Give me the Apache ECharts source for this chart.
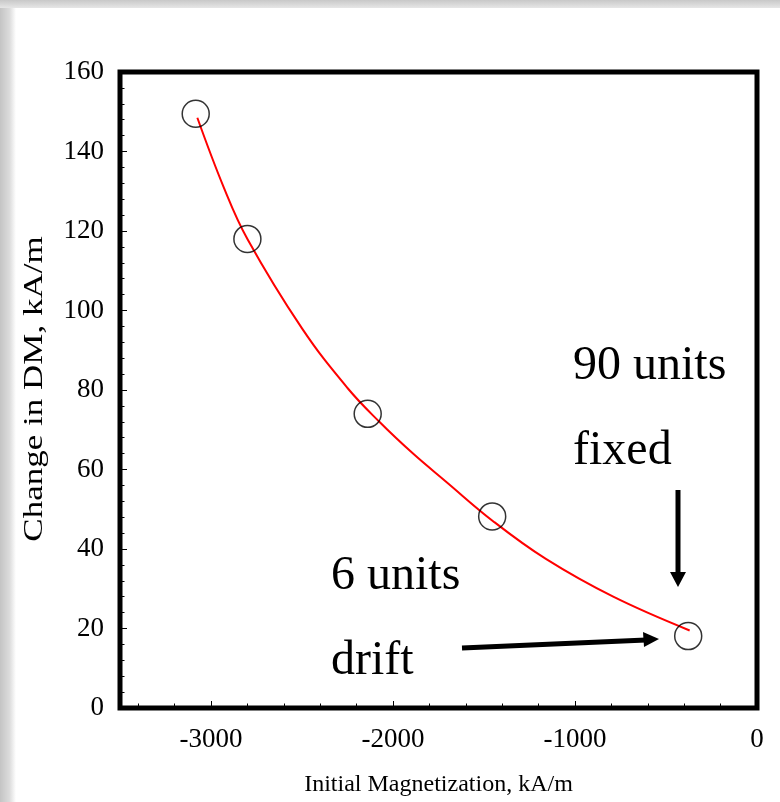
<!DOCTYPE html>
<html>
<head>
<meta charset="utf-8">
<script src="https://cdn.jsdelivr.net/npm/echarts@6/dist/echarts.min.js"></script>
<style>
  html, body { margin: 0; padding: 0; background: #fff; }
  #div_chart { width: 780px; height: 802px; }
</style>
</head>
<body>
<div id="div_chart"></div>
<script>
// measured points (circles)
var pointX = [-3084, -2800, -2139, -1455, -378];
var pointY = [149.5, 118, 74, 48.2, 18.1];

// fitted curve
var curveX = [-3075, -2930, -2800, -2500, -2250, -2075, -1890, -1710, -1450, -1160, -790, -370];
var curveY = [148.5, 131, 118, 95.5, 80.5, 72, 64, 57, 47, 37.5, 28, 19.5];

// axis ticks
var xLabelTicks = [-3000, -2000, -1000, 0];
var xMinorTicks = [-3400, -3200, -2800, -2600, -2400, -2200, -1800, -1600, -1400, -1200, -800, -600, -400, -200];

var serif = "'Liberation Serif', 'Times New Roman', serif";

var zip = function (xs, ys) {
    return xs.map(function (x, i) { return [x, ys[i]]; });
};

var initChart = function () {
    var myChart = echarts.init(document.getElementById("div_chart"));
    var option = {
        backgroundColor: '#fff',
        animation: false,
        grid: {
            left: 120, right: 23, top: 72, bottom: 93,
            show: true, borderWidth: 5, borderColor: '#000',
            backgroundColor: '#fff'
        },
        xAxis: [
            {
                type: 'value', min: -3500, max: 0, position: 'bottom',
                name: 'Initial Magnetization, kA/m',
                nameLocation: 'middle', nameGap: 65,
                nameTextStyle: { fontFamily: serif, fontSize: 24, color: '#000' },
                axisLine: { show: false, onZero: false },
                splitLine: { show: false },
                axisTick: { inside: true, length: 7, customValues: xLabelTicks, lineStyle: { color: '#000', width: 1 } },
                axisLabel: {
                    customValues: xLabelTicks, fontFamily: serif, fontSize: 27, color: '#000', margin: 18,
                    formatter: function (v) { return String(v); }
                }
            },
            {
                type: 'value', min: -3500, max: 0, position: 'bottom',
                axisLine: { show: false, onZero: false },
                splitLine: { show: false },
                axisTick: { inside: true, length: 4.5, customValues: xMinorTicks, lineStyle: { color: '#000', width: 1 } },
                axisLabel: { show: false }
            }
        ],
        yAxis: {
            type: 'value', min: 0, max: 160, interval: 20, position: 'left',
            axisLine: { show: false, onZero: false },
            splitLine: { show: false },
            axisTick: { inside: true, length: 7, lineStyle: { color: '#000', width: 1 } },
            minorTick: { show: true, splitNumber: 5, length: 4.5, lineStyle: { color: '#000', width: 1 } },
            axisLabel: { fontFamily: serif, fontSize: 27, color: '#000', margin: 16 }
        },
        series: [
            {
                name: 'fit', type: 'line', smooth: 0.4,
                data: zip(curveX, curveY),
                showSymbol: false, symbol: 'none',
                lineStyle: { color: '#ff0000', width: 2 },
                z: 2
            },
            {
                name: 'data', type: 'scatter',
                data: zip(pointX, pointY),
                symbol: 'circle', symbolSize: 27,
                itemStyle: { color: 'rgba(0,0,0,0)', borderColor: '#000', borderWidth: 1.5 },
                z: 3
            }
        ],
        graphic: [
            {
                type: 'rect', z: -10, silent: true,
                shape: { x: 0, y: 0, width: 16, height: 802 },
                style: { fill: new echarts.graphic.LinearGradient(0, 0, 1, 0, [
                    { offset: 0, color: '#c4c4c4' }, { offset: 0.6, color: '#dcdcdc' }, { offset: 1, color: '#ffffff' }
                ]) }
            },
            {
                type: 'rect', z: -10, silent: true,
                shape: { x: 0, y: 0, width: 780, height: 8 },
                style: { fill: new echarts.graphic.LinearGradient(0, 0, 0, 1, [
                    { offset: 0, color: '#c8c8c8' }, { offset: 1, color: '#e6e6e6' }
                ]) }
            },
            // y axis title, drawn as text stretched along its length
            {
                type: 'text', z: 10, x: 35, y: 389, rotation: Math.PI / 2, scaleX: 1.25, scaleY: 0.95,
                style: { text: 'Change in DM, kA/m', font: '28px ' + serif, fill: '#000', textAlign: 'center', textVerticalAlign: 'middle' }
            },
            { type: 'text', z: 10, style: { x: 573, y: 366, text: '90 units', font: '48px ' + serif, fill: '#000', textVerticalAlign: 'middle' } },
            { type: 'text', z: 10, style: { x: 573, y: 451, text: 'fixed', font: '48px ' + serif, fill: '#000', textVerticalAlign: 'middle' } },
            { type: 'text', z: 10, style: { x: 331, y: 576, text: '6 units', font: '48px ' + serif, fill: '#000', textVerticalAlign: 'middle' } },
            { type: 'text', z: 10, style: { x: 331, y: 661, text: 'drift', font: '48px ' + serif, fill: '#000', textVerticalAlign: 'middle' } },
            // down arrow
            { type: 'line', z: 10, shape: { x1: 678, y1: 490, x2: 678, y2: 574 }, style: { stroke: '#000', lineWidth: 5 } },
            { type: 'polygon', z: 10, shape: { points: [[670, 572], [686, 572], [678, 587]] }, style: { fill: '#000' } },
            // right arrow
            { type: 'line', z: 10, shape: { x1: 462, y1: 648, x2: 646, y2: 640 }, style: { stroke: '#000', lineWidth: 5 } },
            { type: 'polygon', z: 10, shape: { points: [[643, 632], [644, 647], [659, 639]] }, style: { fill: '#000' } }
        ]
    };
    myChart.setOption(option);
};

initChart();
</script>
</body>
</html>
